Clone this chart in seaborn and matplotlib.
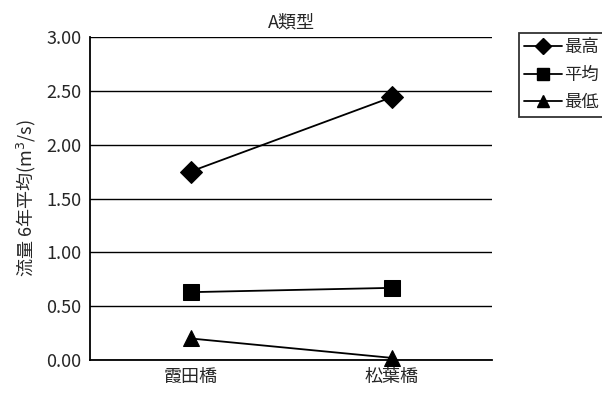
import pandas as pd
import seaborn as sns
import matplotlib.pyplot as plt

sites = ["霞田橋", "松葉橋"]
series = ["最高", "平均", "最低"]
max_vals = [1.75, 2.44]
avg_vals = [0.63, 0.67]
min_vals = [0.20, 0.02]

df = pd.DataFrame({
    "site": sites * 3,
    "kind": [s for s in series for _ in sites],
    "value": max_vals + avg_vals + min_vals,
})

sns.set_style("white")
plt.rcParams["font.family"] = ["Noto Sans CJK JP", "DejaVu Sans"]

fig = plt.figure(figsize=(6.02, 3.96), dpi=100)
ax = fig.add_axes([90 / 602, 1 - 360 / 396, 402 / 602, 323 / 396])

sns.lineplot(data=df, x="site", y="value", hue="kind", style="kind",
             palette=["black"] * 3, markers=["D", "s", "^"], dashes=False,
             markersize=11, linewidth=1.3, markeredgecolor="black", ax=ax,
             legend=False)
for line in ax.lines:
    line.set_clip_on(False)
    line.set_zorder(5)

ax.set_xlim(-0.5, 1.5)
ax.set_ylim(0, 3.0)
ticks = [0, 0.5, 1.0, 1.5, 2.0, 2.5, 3.0]
ax.set_yticks(ticks)
ax.set_yticklabels([f"{v:.2f}" for v in ticks], fontsize=13)
ax.yaxis.grid(True, color="black", linewidth=1)
ax.set_xticks([0, 1])
ax.set_xticklabels(sites, fontsize=13)
ax.tick_params(axis="both", length=0, pad=6)
ax.set_xticks([0.5], minor=True)
ax.tick_params(axis="x", which="minor", direction="in", length=5, width=1, color="black")
for side in ["top", "right"]:
    ax.spines[side].set_visible(False)
for side in ["left", "bottom"]:
    ax.spines[side].set_color("black")
    ax.spines[side].set_linewidth(1.3)
ax.set_xlabel("")
ax.set_ylabel("流量 6年平均(m$^3$/s)", fontsize=13, labelpad=6)
ax.set_title("A類型", fontsize=13, pad=7)

handles = [plt.Line2D([], [], color="black", marker=m, markersize=8, linewidth=1.3)
           for m in ["D", "s", "^"]]
leg = fig.legend(handles, series, loc="upper left", bbox_to_anchor=(519 / 602, 1 - 33 / 396),
                 frameon=True, fontsize=12.5, handlelength=2.2, borderpad=0.3,
                 labelspacing=0.55, handletextpad=0.1, borderaxespad=0, fancybox=False)
leg.get_frame().set_edgecolor("black")
leg.get_frame().set_linewidth(1.3)

fig.savefig("out.png", dpi=100)
